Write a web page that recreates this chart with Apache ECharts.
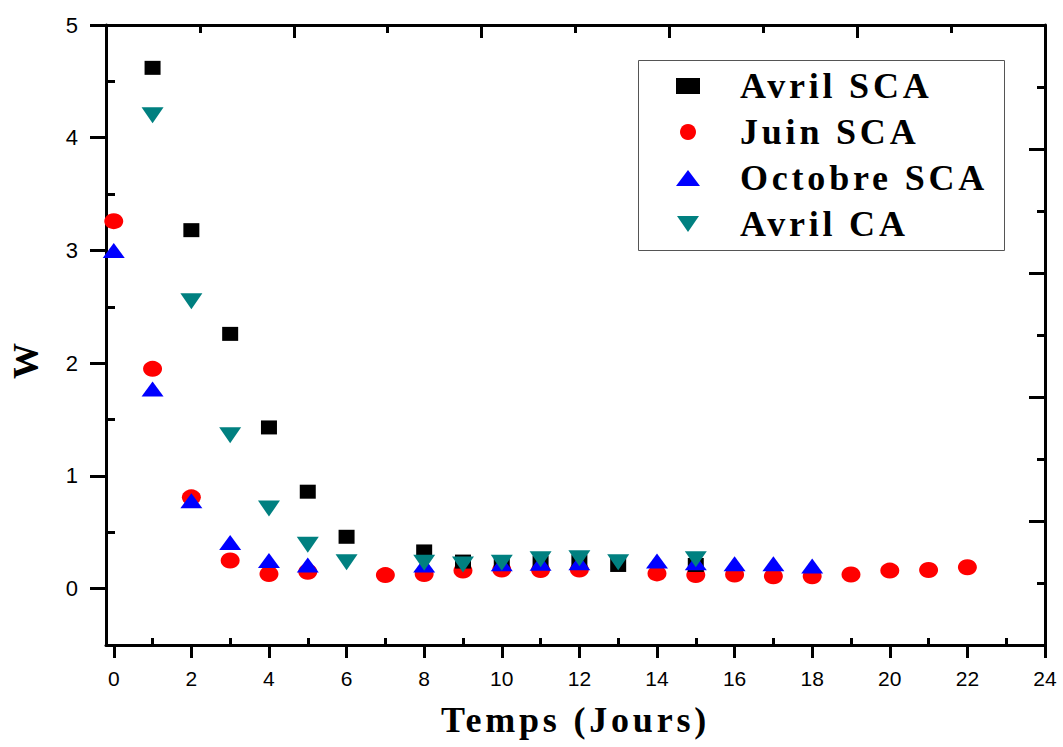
<!DOCTYPE html>
<html>
<head>
<meta charset="utf-8">
<script src="https://cdn.jsdelivr.net/npm/echarts@6/dist/echarts.min.js"></script>
<style>
  html, body { margin: 0; padding: 0; background: #fff; }
  #chart { width: 1063px; height: 747px; }
  #chart text[style*="Liberation Serif"] { letter-spacing: 3.8px; }
</style>
</head>
<body>
<div id="chart"></div>
<script>
// ---- data ----
const xAvrilSCA = [1, 2, 3, 4, 5, 6, 8, 9, 10, 11, 12, 13, 15];
const yAvrilSCA = [4.62, 3.18, 2.26, 1.43, 0.86, 0.46, 0.33, 0.24, 0.23, 0.23, 0.24, 0.21, 0.21];

const xJuinSCA = [0, 1, 2, 3, 4, 5, 7, 8, 9, 10, 11, 12, 14, 15, 16, 17, 18, 19, 20, 21, 22];
const yJuinSCA = [3.26, 1.95, 0.81, 0.25, 0.13, 0.15, 0.12, 0.13, 0.16, 0.17, 0.165, 0.17, 0.135, 0.12, 0.125, 0.11, 0.11, 0.125, 0.16, 0.165, 0.19];

const xOctobreSCA = [0, 1, 2, 3, 4, 5, 8, 10, 11, 12, 14, 15, 16, 17, 18];
const yOctobreSCA = [3.00, 1.77, 0.78, 0.41, 0.25, 0.21, 0.21, 0.22, 0.225, 0.23, 0.245, 0.23, 0.22, 0.22, 0.20];

const xAvrilCA = [1, 2, 3, 4, 5, 6, 8, 9, 10, 11, 12, 13, 15];
const yAvrilCA = [4.20, 2.55, 1.36, 0.71, 0.39, 0.235, 0.23, 0.215, 0.23, 0.26, 0.27, 0.235, 0.26];

const seriesNames = ['Avril SCA', 'Juin SCA', 'Octobre SCA', 'Avril CA'];

// tick labels
const xMajorTicks = [0, 2, 4, 6, 8, 10, 12, 14, 16, 18, 20, 22, 24];
const xMinorTicks = [1, 3, 5, 7, 9, 11, 13, 15, 17, 19, 21, 23];
const yMajorTicks = [0, 1, 2, 3, 4, 5];
const yMinorTicks = [-0.5, 0.5, 1.5, 2.5, 3.5, 4.5];

const xAxisTitle = 'Temps (Jours)';
const yAxisTitle = 'W';

// ---- chart ----
function pairs(xs, ys) { return xs.map((x, i) => [x, ys[i]]); }

const serifBold = { fontFamily: 'Liberation Serif', fontWeight: 'bold', fontSize: 36, color: '#000' };
const black = '#000';
const lineW = 3;
const hiddenLine = { show: false, onZero: false };

const chart = echarts.init(document.getElementById('chart'), null, { renderer: 'svg' });

const option = {
  animation: false,
  backgroundColor: '#fff',
  grid: { left: 106, right: 18, top: 25, bottom: 102, containLabel: false, outerBoundsMode: 'none' },
  legend: {
    orient: 'vertical',
    left: 676,
    top: 68,
    padding: 0,
    itemGap: 10,
    itemWidth: 24,
    itemHeight: 16,
    data: seriesNames,
    textStyle: Object.assign({}, serifBold, { lineHeight: 36, padding: [0, 0, 0, 35] })
  },
  graphic: [{
    type: 'rect',
    left: 636, top: 58,
    shape: { width: 366, height: 190 },
    style: { fill: 'none', stroke: '#555', lineWidth: 1 },
    z: 100
  }],
  xAxis: [
    {
      type: 'value', position: 'bottom', min: -0.2, max: 24,
      axisLine: { show: true, onZero: false, lineStyle: { color: black, width: lineW } },
      axisTick: { show: true, length: 13, customValues: xMajorTicks, lineStyle: { color: black, width: lineW } },
      axisLabel: { show: true, customValues: xMajorTicks, margin: 23, fontSize: 21, color: black, fontFamily: 'Liberation Sans' },
      splitLine: { show: false },
      name: xAxisTitle, nameLocation: 'middle', nameGap: 57,
      nameTextStyle: serifBold
    },
    {
      type: 'value', position: 'bottom', min: -0.2, max: 24, offset: 0,
      axisLine: hiddenLine,
      axisTick: { show: true, inside: true, length: 7, customValues: xMinorTicks, lineStyle: { color: black, width: lineW } },
      axisLabel: { show: false },
      splitLine: { show: false }
    },
    {
      type: 'value', position: 'top', min: 0, max: 5, interval: 1,
      axisLine: { show: true, onZero: false, lineStyle: { color: black, width: lineW } },
      axisTick: { show: true, inside: true, length: 13, lineStyle: { color: black, width: lineW } },
      minorTick: { show: true, splitNumber: 2, length: 8, lineStyle: { color: black, width: lineW } },
      axisLabel: { show: false },
      splitLine: { show: false }
    }
  ],
  yAxis: [
    {
      type: 'value', position: 'left', min: -0.5, max: 5,
      axisLine: { show: true, onZero: false, lineStyle: { color: black, width: lineW } },
      axisTick: { show: true, length: 16, customValues: yMajorTicks, lineStyle: { color: black, width: lineW } },
      axisLabel: { show: true, customValues: yMajorTicks, margin: 28, fontSize: 22, color: black, fontFamily: 'Liberation Sans' },
      splitLine: { show: false },
      name: yAxisTitle, nameLocation: 'middle', nameGap: 62, nameRotate: 90,
      nameTextStyle: Object.assign({}, serifBold, { padding: [0, 48, 0, 0] })
    },
    {
      type: 'value', position: 'left', min: -0.5, max: 5, offset: 0,
      axisLine: hiddenLine,
      axisTick: { show: true, inside: true, length: 9, customValues: yMinorTicks, lineStyle: { color: black, width: lineW } },
      axisLabel: { show: false },
      splitLine: { show: false }
    },
    {
      type: 'value', position: 'right', min: 0, max: 5, interval: 1,
      axisLine: { show: true, onZero: false, lineStyle: { color: black, width: lineW } },
      axisTick: { show: true, inside: true, length: 16, lineStyle: { color: black, width: lineW } },
      minorTick: { show: true, splitNumber: 2, length: 8, lineStyle: { color: black, width: lineW } },
      axisLabel: { show: false },
      splitLine: { show: false }
    }
  ],
  series: [
    {
      name: seriesNames[0], type: 'scatter', xAxisIndex: 0, yAxisIndex: 0, z: 3,
      symbol: 'rect', symbolSize: [16, 14],
      itemStyle: { color: '#000000', opacity: 1 },
      data: pairs(xAvrilSCA, yAvrilSCA)
    },
    {
      name: seriesNames[1], type: 'scatter', xAxisIndex: 0, yAxisIndex: 0, z: 2,
      symbol: 'circle', symbolSize: [19, 16],
      itemStyle: { color: '#ff0000', opacity: 1 },
      data: pairs(xJuinSCA, yJuinSCA)
    },
    {
      name: seriesNames[2], type: 'scatter', xAxisIndex: 0, yAxisIndex: 0, z: 4,
      symbol: 'triangle', symbolSize: [22, 15],
      itemStyle: { color: '#0000ff', opacity: 1 },
      data: pairs(xOctobreSCA, yOctobreSCA)
    },
    {
      name: seriesNames[3], type: 'scatter', xAxisIndex: 0, yAxisIndex: 0, z: 5,
      symbol: 'path://M0,0 L22,0 L11,16 Z', symbolSize: [22, 16],
      itemStyle: { color: '#008080', opacity: 1 },
      data: pairs(xAvrilCA, yAvrilCA)
    }
  ]
};

chart.setOption(option);
</script>
</body>
</html>
